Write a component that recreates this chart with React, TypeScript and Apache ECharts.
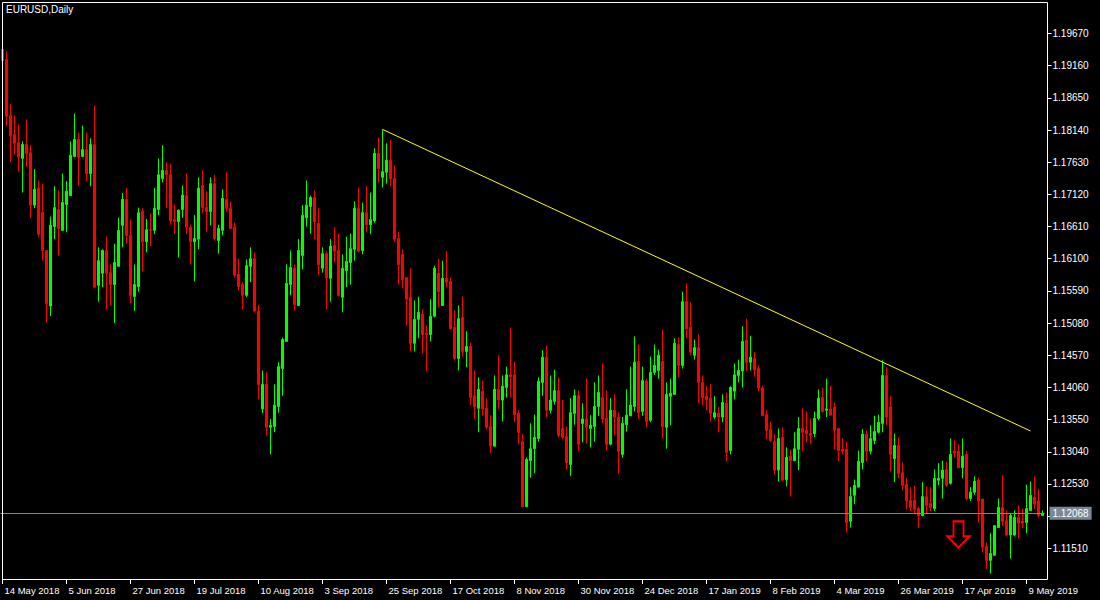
import React, { useEffect, useRef } from "react";
import * as echarts from "echarts";

// EURUSD daily OHLC, one value per trading day starting 14 May 2018
const opens = [
  1.1942, 1.1926, 1.1837, 1.1807, 1.1794, 1.1769, 1.1791, 1.1778, 1.1695, 1.1722,
  1.1683, 1.1623, 1.1535, 1.1661, 1.1688, 1.1655, 1.1696, 1.1710, 1.1772, 1.1799,
  1.1772, 1.1783, 1.1745, 1.1791, 1.1568, 1.1587, 1.1623, 1.1588, 1.1569, 1.1598,
  1.1663, 1.1704, 1.1647, 1.1550, 1.1566, 1.1685, 1.1637, 1.1656, 1.1655, 1.1688,
  1.1737, 1.1750, 1.1743, 1.1672, 1.1669, 1.1688, 1.1710, 1.1660, 1.1637, 1.1641,
  1.1726, 1.1691, 1.1685, 1.1729, 1.1639, 1.1655, 1.1704, 1.1690, 1.1660, 1.1585,
  1.1569, 1.1552, 1.1598, 1.1610, 1.1527, 1.1372, 1.1411, 1.1343, 1.1344, 1.1376,
  1.1436, 1.1479, 1.1569, 1.1595, 1.1536, 1.1615, 1.1675, 1.1693, 1.1707, 1.1666,
  1.1595, 1.1618, 1.1579, 1.1631, 1.1623, 1.1549, 1.1591, 1.1604, 1.1625, 1.1690,
  1.1623, 1.1683, 1.1664, 1.1670, 1.1777, 1.1739, 1.1747, 1.1766, 1.1737, 1.1642,
  1.1617, 1.1580, 1.1549, 1.1476, 1.1514, 1.1522, 1.1492, 1.1490, 1.1519, 1.1587,
  1.1536, 1.1579, 1.1574, 1.1501, 1.1452, 1.1517, 1.1463, 1.1471, 1.1393, 1.1373,
  1.1400, 1.1373, 1.1344, 1.1313, 1.1403, 1.1386, 1.1406, 1.1426, 1.1426, 1.1365,
  1.1320, 1.1217, 1.1290, 1.1309, 1.1325, 1.1414, 1.1454, 1.1370, 1.1384, 1.1401,
  1.1341, 1.1328, 1.1284, 1.1365, 1.1393, 1.1349, 1.1356, 1.1341, 1.1344, 1.1376,
  1.1390, 1.1357, 1.1316, 1.1370, 1.1359, 1.1300, 1.1347, 1.1361, 1.1376, 1.1447,
  1.1368, 1.1416, 1.1354, 1.1430, 1.1433, 1.1447, 1.1343, 1.1392, 1.1395, 1.1474,
  1.1441, 1.1542, 1.1501, 1.1457, 1.1469, 1.1414, 1.1392, 1.1389, 1.1359, 1.1365,
  1.1359, 1.1381, 1.1306, 1.1400, 1.1425, 1.1432, 1.1481, 1.1446, 1.1452, 1.1436,
  1.1405, 1.1363, 1.1340, 1.1320, 1.1275, 1.1327, 1.1260, 1.1297, 1.1290, 1.1308,
  1.1341, 1.1338, 1.1333, 1.1333, 1.1357, 1.1390, 1.1370, 1.1372, 1.1375, 1.1341,
  1.1308, 1.1308, 1.1194, 1.1235, 1.1248, 1.1287, 1.1332, 1.1305, 1.1322, 1.1335,
  1.1349, 1.1425, 1.1375, 1.1293, 1.1314, 1.1271, 1.1252, 1.1227, 1.1227, 1.1214,
  1.1203, 1.1233, 1.1222, 1.1214, 1.1259, 1.1262, 1.1276, 1.1254, 1.1305, 1.1305,
  1.1279, 1.1300, 1.1230, 1.1240, 1.1259, 1.1229, 1.1154, 1.1132, 1.1140, 1.1184,
  1.1216, 1.1195, 1.1172, 1.1172, 1.1200, 1.1194, 1.1192, 1.1211, 1.1232, 1.1226,
  1.1203,
];

const closes = [
  1.1924, 1.1836, 1.1805, 1.1793, 1.1771, 1.1791, 1.1777, 1.1695, 1.1720, 1.1649,
  1.1623, 1.1539, 1.1663, 1.1691, 1.1658, 1.1699, 1.1717, 1.1774, 1.1799, 1.1771,
  1.1783, 1.1745, 1.1791, 1.1565, 1.1607, 1.1623, 1.1587, 1.1569, 1.1604, 1.1655,
  1.1704, 1.1647, 1.1552, 1.1569, 1.1683, 1.1637, 1.1656, 1.1655, 1.1690, 1.1743,
  1.1750, 1.1743, 1.1670, 1.1669, 1.1687, 1.1711, 1.1660, 1.1637, 1.1642, 1.1722,
  1.1691, 1.1685, 1.1729, 1.1642, 1.1658, 1.1706, 1.1690, 1.1658, 1.1584, 1.1566,
  1.1552, 1.1599, 1.1610, 1.1527, 1.1411, 1.1411, 1.1343, 1.1346, 1.1378, 1.1439,
  1.1482, 1.1571, 1.1596, 1.1537, 1.1623, 1.1679, 1.1695, 1.1707, 1.1669, 1.1601,
  1.1618, 1.1580, 1.1630, 1.1622, 1.1552, 1.1595, 1.1606, 1.1626, 1.1690, 1.1622,
  1.1683, 1.1664, 1.1672, 1.1777, 1.1753, 1.1748, 1.1766, 1.1737, 1.1641, 1.1601,
  1.1577, 1.1546, 1.1476, 1.1514, 1.1525, 1.1490, 1.1490, 1.1519, 1.1595, 1.1558,
  1.1579, 1.1573, 1.1499, 1.1452, 1.1515, 1.1463, 1.1471, 1.1390, 1.1375, 1.1403,
  1.1372, 1.1343, 1.1313, 1.1403, 1.1386, 1.1408, 1.1426, 1.1423, 1.1363, 1.1335,
  1.1217, 1.1292, 1.1309, 1.1327, 1.1416, 1.1454, 1.1370, 1.1386, 1.1401, 1.1330,
  1.1327, 1.1287, 1.1366, 1.1393, 1.1316, 1.1356, 1.1343, 1.1346, 1.1376, 1.1398,
  1.1356, 1.1316, 1.1370, 1.1359, 1.1305, 1.1349, 1.1362, 1.1378, 1.1446, 1.1366,
  1.1417, 1.1352, 1.1430, 1.1441, 1.1457, 1.1344, 1.1395, 1.1397, 1.1476, 1.1441,
  1.1542, 1.1499, 1.1462, 1.1469, 1.1414, 1.1390, 1.1387, 1.1365, 1.1366, 1.1359,
  1.1382, 1.1303, 1.1406, 1.1426, 1.1433, 1.1479, 1.1446, 1.1454, 1.1434, 1.1405,
  1.1361, 1.1338, 1.1322, 1.1275, 1.1325, 1.1259, 1.1295, 1.1290, 1.1309, 1.1341,
  1.1335, 1.1333, 1.1330, 1.1357, 1.1389, 1.1368, 1.1372, 1.1362, 1.1338, 1.1306,
  1.1305, 1.1192, 1.1233, 1.1251, 1.1289, 1.1332, 1.1305, 1.1325, 1.1336, 1.1351,
  1.1425, 1.1359, 1.1300, 1.1314, 1.1270, 1.1251, 1.1226, 1.1216, 1.1213, 1.1203,
  1.1233, 1.1219, 1.1216, 1.1262, 1.1262, 1.1275, 1.1251, 1.1300, 1.1302, 1.1279,
  1.1297, 1.1230, 1.1240, 1.1257, 1.1226, 1.1153, 1.1132, 1.1143, 1.1187, 1.1216,
  1.1194, 1.1172, 1.1203, 1.1200, 1.1191, 1.1191, 1.1214, 1.1235, 1.1221, 1.1203,
  1.12068,
];

const lows = [
  1.1921, 1.1820, 1.1763, 1.1775, 1.1748, 1.1715, 1.1756, 1.1675, 1.1690, 1.1644,
  1.1607, 1.1509, 1.1519, 1.1641, 1.1615, 1.1655, 1.1652, 1.1710, 1.1771, 1.1726,
  1.1771, 1.1733, 1.1725, 1.1563, 1.1542, 1.1565, 1.1530, 1.1536, 1.1508, 1.1598,
  1.1628, 1.1634, 1.1539, 1.1527, 1.1558, 1.1590, 1.1620, 1.1630, 1.1649, 1.1679,
  1.1731, 1.1690, 1.1664, 1.1649, 1.1612, 1.1675, 1.1649, 1.1601, 1.1574, 1.1625,
  1.1682, 1.1653, 1.1663, 1.1639, 1.1618, 1.1647, 1.1685, 1.1658, 1.1580, 1.1560,
  1.1530, 1.1549, 1.1573, 1.1525, 1.1387, 1.1365, 1.1330, 1.1300, 1.1335, 1.1366,
  1.1393, 1.1479, 1.1552, 1.1528, 1.1535, 1.1593, 1.1661, 1.1650, 1.1641, 1.1584,
  1.1588, 1.1530, 1.1542, 1.1604, 1.1550, 1.1525, 1.1565, 1.1569, 1.1607, 1.1620,
  1.1617, 1.1652, 1.1649, 1.1667, 1.1731, 1.1723, 1.1729, 1.1725, 1.1637, 1.1569,
  1.1563, 1.1504, 1.1463, 1.1463, 1.1484, 1.1460, 1.1432, 1.1479, 1.1517, 1.1533,
  1.1536, 1.1565, 1.1499, 1.1449, 1.1433, 1.1455, 1.1438, 1.1378, 1.1356, 1.1335,
  1.1361, 1.1340, 1.1302, 1.1313, 1.1372, 1.1352, 1.1390, 1.1390, 1.1351, 1.1316,
  1.1216, 1.1216, 1.1263, 1.1270, 1.1320, 1.1393, 1.1359, 1.1365, 1.1379, 1.1327,
  1.1324, 1.1276, 1.1266, 1.1347, 1.1305, 1.1319, 1.1317, 1.1311, 1.1320, 1.1361,
  1.1349, 1.1306, 1.1314, 1.1330, 1.1270, 1.1295, 1.1336, 1.1361, 1.1368, 1.1356,
  1.1361, 1.1343, 1.1351, 1.1426, 1.1420, 1.1325, 1.1309, 1.1346, 1.1395, 1.1422,
  1.1436, 1.1484, 1.1457, 1.1450, 1.1381, 1.1378, 1.1370, 1.1352, 1.1356, 1.1335,
  1.1351, 1.1289, 1.1300, 1.1387, 1.1414, 1.1406, 1.1432, 1.1433, 1.1423, 1.1400,
  1.1361, 1.1324, 1.1320, 1.1268, 1.1257, 1.1259, 1.1249, 1.1233, 1.1289, 1.1275,
  1.1305, 1.1319, 1.1316, 1.1327, 1.1354, 1.1366, 1.1359, 1.1362, 1.1308, 1.1289,
  1.1300, 1.1176, 1.1184, 1.1221, 1.1248, 1.1276, 1.1289, 1.1300, 1.1316, 1.1333,
  1.1335, 1.1346, 1.1273, 1.1256, 1.1262, 1.1243, 1.1213, 1.1210, 1.1205, 1.1183,
  1.1202, 1.1206, 1.1210, 1.1210, 1.1251, 1.1230, 1.1249, 1.1252, 1.1295, 1.1279,
  1.1262, 1.1227, 1.1226, 1.1236, 1.1192, 1.1145, 1.1118, 1.1111, 1.1140, 1.1183,
  1.1186, 1.1170, 1.1135, 1.1170, 1.1167, 1.1183, 1.1175, 1.1211, 1.1213, 1.1200,
  1.1203,
];

const highs = [
  1.1943, 1.1939, 1.1855, 1.1837, 1.1823, 1.1796, 1.1831, 1.1790, 1.1752, 1.1734,
  1.1729, 1.1623, 1.1677, 1.1725, 1.1718, 1.1745, 1.1733, 1.1796, 1.1840, 1.1810,
  1.1821, 1.1810, 1.1801, 1.1853, 1.1628, 1.1625, 1.1645, 1.1601, 1.1634, 1.1675,
  1.1714, 1.1722, 1.1672, 1.1601, 1.1691, 1.1690, 1.1673, 1.1682, 1.1722, 1.1769,
  1.1790, 1.1763, 1.1760, 1.1696, 1.1688, 1.1726, 1.1745, 1.1664, 1.1679, 1.1739,
  1.1750, 1.1717, 1.1739, 1.1743, 1.1664, 1.1720, 1.1747, 1.1701, 1.1667, 1.1610,
  1.1573, 1.1609, 1.1628, 1.1620, 1.1537, 1.1433, 1.1430, 1.1356, 1.1411, 1.1446,
  1.1485, 1.1601, 1.1623, 1.1601, 1.1641, 1.1695, 1.1734, 1.1710, 1.1718, 1.1690,
  1.1628, 1.1622, 1.1641, 1.1660, 1.1650, 1.1617, 1.1645, 1.1650, 1.1701, 1.1722,
  1.1699, 1.1725, 1.1715, 1.1785, 1.1802, 1.1815, 1.1793, 1.1798, 1.1758, 1.1652,
  1.1625, 1.1580, 1.1595, 1.1544, 1.1550, 1.1530, 1.1504, 1.1546, 1.1599, 1.1610,
  1.1607, 1.1622, 1.1580, 1.1528, 1.1536, 1.1550, 1.1495, 1.1477, 1.1433, 1.1422,
  1.1417, 1.1389, 1.1362, 1.1425, 1.1457, 1.1425, 1.1439, 1.1501, 1.1447, 1.1370,
  1.1332, 1.1295, 1.1349, 1.1363, 1.1422, 1.1465, 1.1473, 1.1425, 1.1434, 1.1422,
  1.1386, 1.1344, 1.1389, 1.1403, 1.1401, 1.1381, 1.1420, 1.1362, 1.1414, 1.1425,
  1.1444, 1.1401, 1.1389, 1.1395, 1.1366, 1.1359, 1.1403, 1.1439, 1.1487, 1.1474,
  1.1439, 1.1420, 1.1455, 1.1474, 1.1466, 1.1498, 1.1414, 1.1420, 1.1484, 1.1485,
  1.1558, 1.1571, 1.1541, 1.1482, 1.1490, 1.1425, 1.1408, 1.1411, 1.1392, 1.1375,
  1.1395, 1.1398, 1.1408, 1.1444, 1.1450, 1.1503, 1.1515, 1.1488, 1.1462, 1.1441,
  1.1409, 1.1370, 1.1352, 1.1332, 1.1341, 1.1343, 1.1311, 1.1308, 1.1335, 1.1359,
  1.1373, 1.1368, 1.1357, 1.1368, 1.1403, 1.1405, 1.1420, 1.1409, 1.1382, 1.1341,
  1.1325, 1.1320, 1.1248, 1.1260, 1.1306, 1.1340, 1.1338, 1.1346, 1.1361, 1.1363,
  1.1449, 1.1438, 1.1392, 1.1333, 1.1327, 1.1287, 1.1262, 1.1248, 1.1251, 1.1217,
  1.1256, 1.1249, 1.1248, 1.1276, 1.1286, 1.1290, 1.1289, 1.1325, 1.1322, 1.1316,
  1.1325, 1.1305, 1.1248, 1.1265, 1.1263, 1.1229, 1.1160, 1.1175, 1.1187, 1.1230,
  1.1267, 1.1211, 1.1206, 1.1211, 1.1219, 1.1214, 1.1252, 1.1257, 1.1265, 1.1245,
  1.1211,
];

const priceTicks = [
  1.1151, 1.1202, 1.1253, 1.1304, 1.1355, 1.1406, 1.1457, 1.1508, 1.1559,
  1.1610, 1.1661, 1.1712, 1.1763, 1.1814, 1.1865, 1.1916, 1.1967,
];
// 1.12020 is hidden behind the current-price tag
const priceLabels = priceTicks.filter((v) => v !== 1.1202);

const lastPrice = 1.12068;
const trendStart = { index: 95, price: 1.1815 };
const trendEnd = { index: 257, price: 1.1337 };
const sellArrow = { index: 239, price: 1.1173 };

const firstDay = "2018-05-14";
const closedDays = ["2018-12-25", "2019-01-01"];
const monthNames = ["Jan", "Feb", "Mar", "Apr", "May", "Jun", "Jul", "Aug", "Sep", "Oct", "Nov", "Dec"];

function tradingDays(count: number): string[] {
  const out: string[] = [];
  const d = new Date(firstDay + "T00:00:00Z");
  while (out.length < count) {
    const wd = d.getUTCDay();
    const iso = d.toISOString().slice(0, 10);
    if (wd !== 0 && wd !== 6 && !closedDays.includes(iso)) {
      out.push(`${d.getUTCDate()} ${monthNames[d.getUTCMonth()]} ${d.getUTCFullYear()}`);
    }
    d.setUTCDate(d.getUTCDate() + 1);
  }
  return out;
}

const FONT = "Liberation Sans";

export default function App() {
  const ref = useRef<HTMLDivElement>(null);

  useEffect(() => {
    if (!ref.current) return;
    const chart = echarts.init(ref.current, null, { renderer: "svg" });
    const days = tradingDays(opens.length);
    const ohlc = opens.map((o, i) => [o, closes[i], lows[i], highs[i]]);

    chart.setOption({
      animation: false,
      backgroundColor: "#000000",
      grid: { left: 0.5, top: 0, width: 1044, height: 579, containLabel: false },
      xAxis: {
        type: "category",
        data: days,
        boundaryGap: true,
        axisLine: { show: false },
        axisTick: {
          show: true,
          alignWithLabel: true,
          interval: 15,
          length: 5,
          lineStyle: { color: "#ffffff", width: 1 },
        },
        axisLabel: {
          interval: 15,
          color: "#ffffff",
          fontSize: 9.5,
          fontFamily: FONT,
          align: "left",
          margin: 6,
          padding: [0, 0, 0, 2],
        },
        splitLine: { show: false },
      },
      yAxis: {
        type: "value",
        position: "right",
        min: 1.11024,
        max: 1.20201,
        offset: 3,
        splitLine: { show: false },
        axisLine: { show: false },
        axisTick: {
          show: true,
          customValues: priceTicks,
          length: 4,
          lineStyle: { color: "#ffffff", width: 1 },
        },
        axisLabel: {
          customValues: priceLabels,
          color: "#ffffff",
          fontSize: 10,
          fontFamily: FONT,
          margin: 5,
          formatter: (v: number) => v.toFixed(5),
        },
      },
      series: [
        {
          type: "candlestick",
          data: ohlc,
          barWidth: 2,
          silent: true,
          itemStyle: {
            color: "#00ff00",
            color0: "#ff0000",
            borderColor: "#00ff00",
            borderColor0: "#ff0000",
            borderWidth: 1,
          },
          markLine: {
            silent: true,
            precision: 5,
            symbol: ["none", "none"],
            animation: false,
            data: [
              {
                yAxis: lastPrice,
                lineStyle: { color: "#778899", width: 1, type: "solid" },
                label: {
                  show: true,
                  position: "end",
                  formatter: lastPrice.toFixed(5),
                  color: "#ffffff",
                  backgroundColor: "#778899",
                  padding: [2, 3, 1, 3],
                  fontSize: 10,
                  fontFamily: FONT,
                  distance: 5,
                },
              },
              [
                {
                  coord: [trendStart.index, trendStart.price],
                  lineStyle: { color: "#ffff00", width: 1, type: "solid" },
                  label: { show: false },
                },
                { coord: [trendEnd.index, trendEnd.price] },
              ],
            ],
          },
          markPoint: {
            silent: true,
            animation: false,
            data: [
              {
                coord: [sellArrow.index, sellArrow.price],
                symbol: "path://M6,0 L16,0 L16,15 L22,15 L11,26 L0,15 L6,15 Z",
                symbolSize: [22, 26],
                itemStyle: { color: "rgba(0,0,0,0)", borderColor: "#ff0000", borderWidth: 2 },
                label: { show: false },
              },
            ],
          },
        },
      ],
      graphic: [
        {
          type: "rect",
          z: 100,
          silent: true,
          shape: { x: 2.5, y: 2.5, width: 1045, height: 577 },
          style: { fill: "none", stroke: "#ffffff", lineWidth: 1 },
        },
        {
          type: "text",
          z: 101,
          left: 6,
          top: 4,
          style: { text: "EURUSD,Daily", fill: "#ffffff", font: `10px "${FONT}"` },
        },
      ],
    });

    return () => chart.dispose();
  }, []);

  return (
    <div
      ref={ref}
      style={{ position: "fixed", left: 0, top: 0, width: 1100, height: 600, background: "#000" }}
    />
  );
}
